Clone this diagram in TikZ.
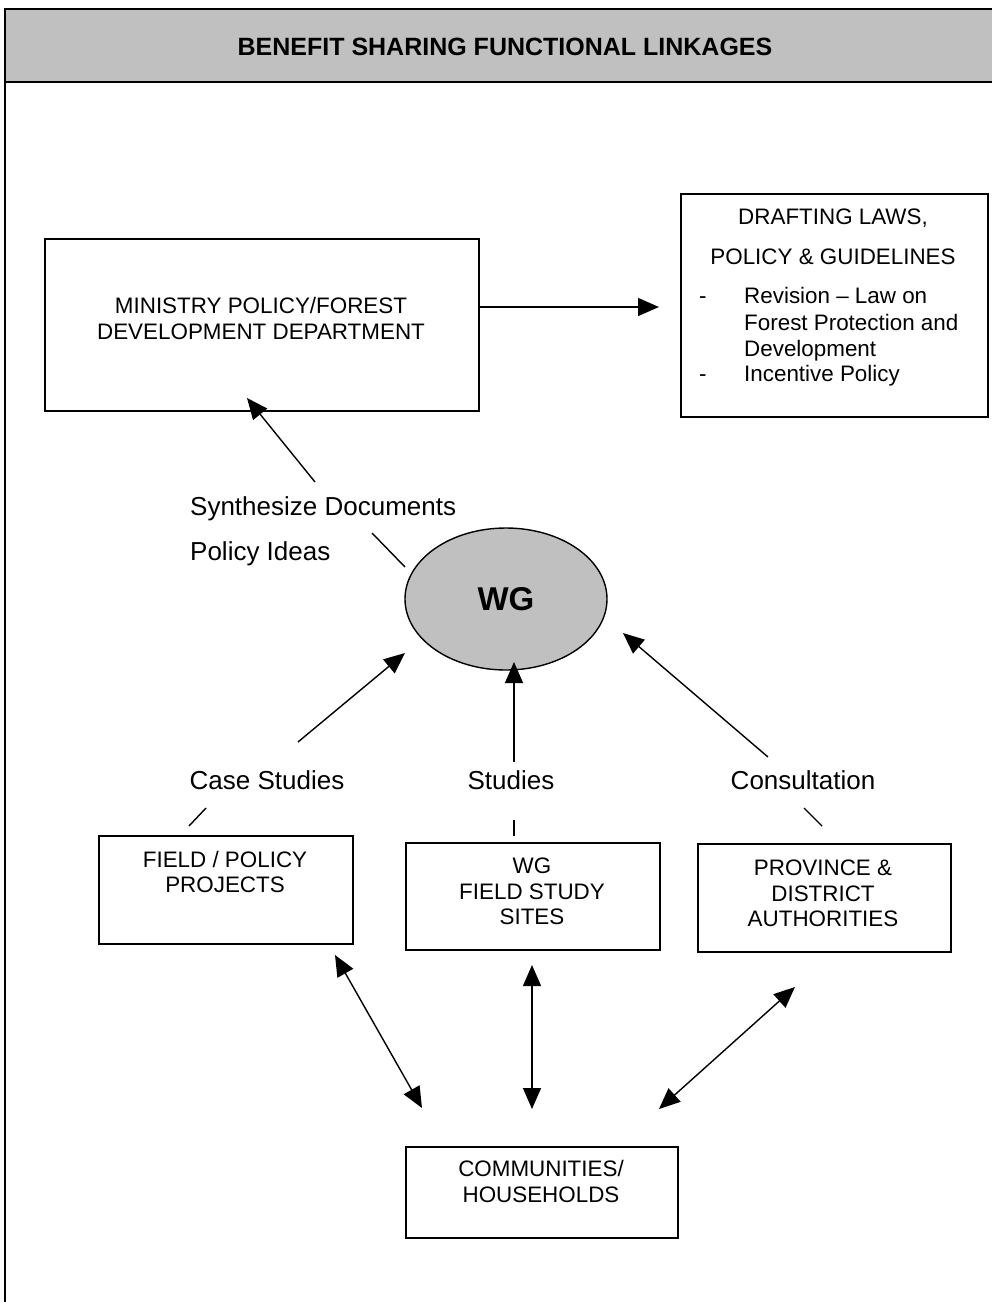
\documentclass[tikz,border=0pt]{standalone}
\usepackage{fontspec}
\setmainfont{Liberation Sans}
\usetikzlibrary{arrows.meta,shapes.geometric}
\definecolor{panelgray}{HTML}{C0C0C0}
\begin{document}
\begin{tikzpicture}[x=1pt,y=-1pt,
  box/.style={draw=black,line width=1.8pt,rectangle,inner sep=0pt,anchor=north west},
  boxtext/.style={font=\fontsize{22.4}{25.5}\selectfont,align=center,inner sep=0pt},
  bullettext/.style={font=\fontsize{22.4}{26.5}\selectfont,inner sep=0pt,anchor=base west},
  lbl/.style={font=\fontsize{26}{30}\selectfont,inner sep=0pt},
  tip/.tip={Triangle[length=21pt,width=18pt]},
  link/.style={line width=1.4pt,-tip},
  twoway/.style={line width=1.4pt,tip-tip},
  leader/.style={line width=1.4pt}]

\useasboundingbox (0,0) rectangle (992,1302);

% header band and left frame line
\node[box,fill=panelgray,minimum width=1000pt,minimum height=73pt] (header) at (4,8) {};
\node[font=\bfseries\fontsize{25}{28}\selectfont,inner sep=0pt] (title) at (505,47) {BENEFIT SHARING FUNCTIONAL LINKAGES};
\draw[line width=1.4pt] (5,81) -- (5,1305);

% ministry box
\node[box,minimum width=434pt,minimum height=172pt] (ministry) at (44,238) {};
\node[boxtext] (ministry-t) at (261,318.5) {MINISTRY POLICY/FOREST\\DEVELOPMENT DEPARTMENT};

% drafting box with its bullet list
\node[box,minimum width=307pt,minimum height=223pt] (draft) at (680,193) {};
\node[boxtext] (draft-h1) at (833,218) {DRAFTING LAWS,};
\node[boxtext] (draft-h2) at (833,257) {POLICY \& GUIDELINES};
\node[bullettext] (draft-d1) at (699,303) {-};
\node[bullettext] (draft-b1a) at (744,303) {Revision -- Law on};
\node[bullettext] (draft-b1b) at (744,330) {Forest Protection and};
\node[bullettext] (draft-b1c) at (744,356) {Development};
\node[bullettext] (draft-d2) at (699,381) {-};
\node[bullettext] (draft-b2) at (744,381) {Incentive Policy};

% working group
\node[ellipse,draw,fill=panelgray,line width=1.4pt,minimum width=202pt,minimum height=142pt,
      font=\bfseries\fontsize{33}{36}\selectfont] (wg) at (506,599) {WG};

% labels
\node[lbl,anchor=west] (synth) at (190,509) {Synthesize Documents};
\node[lbl,anchor=west] (ideas) at (190,554) {Policy Ideas};
\node[lbl] (case) at (267,780) {Case Studies};
\node[lbl] (studies) at (511,780) {Studies};
\node[lbl] (consult) at (803,780) {Consultation};

% lower boxes
\node[box,minimum width=254pt,minimum height=108pt] (field) at (98,835) {};
\node[boxtext] (field-t) at (225,872) {FIELD / POLICY\\PROJECTS};
\node[box,minimum width=254pt,minimum height=107pt] (sites) at (405,842) {};
\node[boxtext] (sites-t) at (532,891.5) {WG\\FIELD STUDY\\SITES};
\node[box,minimum width=253pt,minimum height=108pt] (prov) at (697,843) {};
\node[boxtext] (prov-t) at (823,893.5) {PROVINCE \&\\DISTRICT\\AUTHORITIES};
\node[box,minimum width=272pt,minimum height=91pt] (comm) at (405,1146) {};
\node[boxtext] (comm-t) at (541,1181.5) {COMMUNITIES/\\HOUSEHOLDS};

% connector end points
\coordinate (m-out) at (478,307);
\coordinate (d-in) at (659,307);
\coordinate (syn-s) at (315,482);
\coordinate (syn-e) at (247,398);
\coordinate (ld1-s) at (372,533);
\coordinate (ld1-e) at (405,567);
\coordinate (cs-s) at (298,742);
\coordinate (cs-e) at (405,653);
\coordinate (st-s) at (514,762);
\coordinate (st-e) at (514,662);
\coordinate (co-s) at (768,757);
\coordinate (co-e) at (623,633);
\coordinate (ld2-s) at (189,826);
\coordinate (ld2-e) at (206,808);
\coordinate (ld3-s) at (514,820);
\coordinate (ld3-e) at (514,836);
\coordinate (ld4-s) at (804,808);
\coordinate (ld4-e) at (822,826);
\coordinate (fc-a) at (335,955);
\coordinate (fc-b) at (422,1108);
\coordinate (sc-a) at (532,965);
\coordinate (sc-b) at (532,1109);
\coordinate (pc-a) at (795,987);
\coordinate (pc-b) at (659,1109);

% connectors
\draw[link] (m-out) -- (d-in);
\draw[link] (syn-s) -- (syn-e);
\draw[leader] (ld1-s) -- (ld1-e);
\draw[link] (cs-s) -- (cs-e);
\draw[link] (st-s) -- (st-e);
\draw[link] (co-s) -- (co-e);
\draw[leader] (ld2-s) -- (ld2-e);
\draw[leader] (ld3-s) -- (ld3-e);
\draw[leader] (ld4-s) -- (ld4-e);
\draw[twoway] (fc-a) -- (fc-b);
\draw[twoway] (sc-a) -- (sc-b);
\draw[twoway] (pc-a) -- (pc-b);
\end{tikzpicture}
\end{document}
